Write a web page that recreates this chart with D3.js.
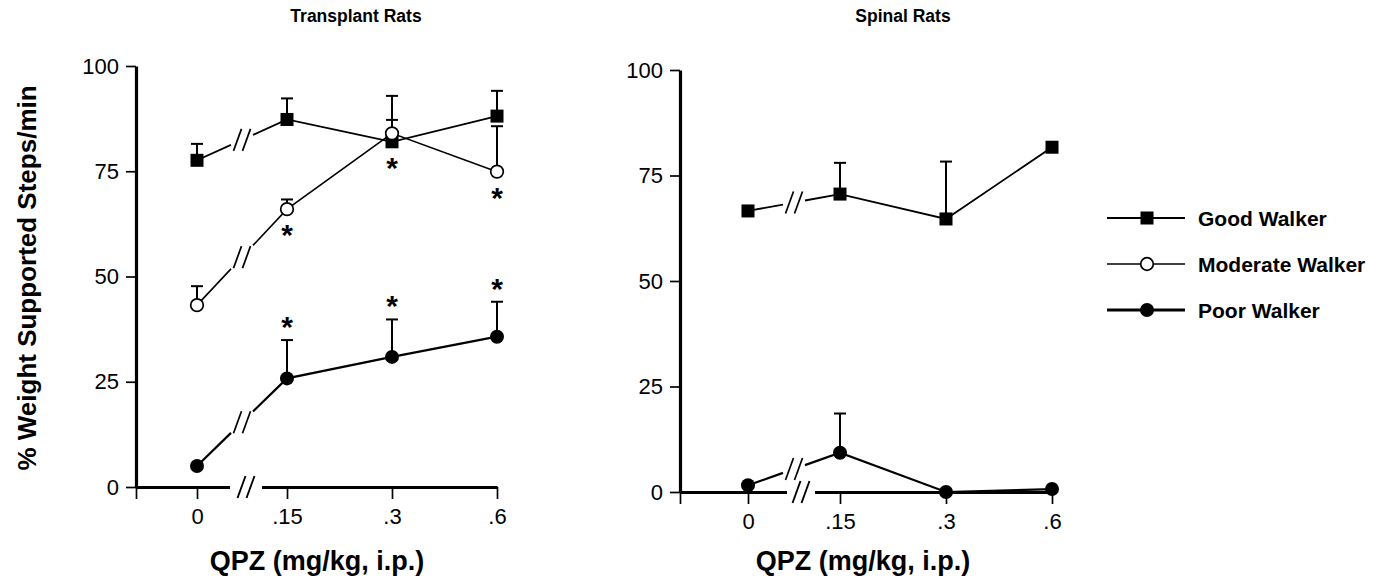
<!DOCTYPE html>
<html>
<head>
<meta charset="utf-8">
<script src="https://cdn.jsdelivr.net/npm/d3@7"></script>
<style>
  body { margin: 0; background: #fff; }
  svg { display: block; font-family: "Liberation Sans", Arial, Helvetica, sans-serif; }
</style>
</head>
<body>
<svg id="chart" width="1383" height="583"></svg>
<script>
// dose labels on the x axis (index -1 is the y-axis position, no label)
const doses = ["0", ".15", ".3", ".6"];
const yTicks = [0, 25, 50, 75, 100];

// Transplant rats
const transplantGood = [77.6, 87.3, 82.0, 88.1];
const transplantGoodSem = [3.9, 5.0, 5.2, 6.0];
const transplantGoodSig = [0, 0, 1, 0];

const transplantModerate = [43.2, 66.0, 84.0, 74.9];
const transplantModerateSem = [4.5, 2.3, 8.9, 10.8];
const transplantModerateSig = [0, 1, 0, 1];

const transplantPoor = [5.0, 25.8, 30.9, 35.7];
const transplantPoorSem = [0, 9.1, 8.9, 8.3];
const transplantPoorSig = [0, 1, 1, 1];

// Spinal rats
const spinalGood = [66.6, 70.6, 64.7, 81.7];
const spinalGoodSem = [0, 7.4, 13.6, 0];

const spinalPoor = [1.6, 9.3, 0, 0.7];
const spinalPoorSem = [0, 9.3, 0, 0];

const legendLabels = ["Good Walker", "Moderate Walker", "Poor Walker"];

const svg = d3.select("#chart");

const styles = {
  good: { marker: "square", width: 1.8, sigPos: "below" },
  moderate: { marker: "open", width: 1.6, sigPos: "below" },
  poor: { marker: "dot", width: 2.2, sigPos: "above" },
};

function drawMarker(g, type, cx, cy) {
  if (type === "square") {
    g.append("rect")
      .attr("x", cx - 6.5).attr("y", cy - 6.5)
      .attr("width", 13).attr("height", 13)
      .attr("fill", "#000");
  } else if (type === "open") {
    g.append("circle")
      .attr("cx", cx).attr("cy", cy).attr("r", 6.3)
      .attr("fill", "#fff").attr("stroke", "#000").attr("stroke-width", 1.7);
  } else {
    g.append("circle")
      .attr("cx", cx).attr("cy", cy).attr("r", 7)
      .attr("fill", "#000");
  }
}

function slashes(g, cx, cy, w) {
  [-4.5, 4.5].forEach((dx) => {
    g.append("line")
      .attr("x1", cx + dx - 4).attr("y1", cy + 11)
      .attr("x2", cx + dx + 4).attr("y2", cy - 11)
      .attr("stroke", "#000").attr("stroke-width", w);
  });
}

function drawPanel(cfg) {
  const x = d3.scaleLinear().domain([-1, 0, 1, 3]).range(cfg.xRange);
  const y = d3.scaleLinear().domain([0, 100]).range(cfg.yRange);
  const g = svg.append("g");

  g.append("text")
    .attr("x", cfg.titleX).attr("y", 22)
    .attr("text-anchor", "middle")
    .attr("font-size", 17.5).attr("font-weight", "bold")
    .text(cfg.title);

  const yAxis = g.append("g")
    .attr("transform", `translate(${x(-1)},0)`)
    .call(d3.axisLeft(y).tickValues(yTicks).tickSize(10).tickSizeOuter(0).tickPadding(7));

  const xAxis = g.append("g")
    .attr("transform", `translate(0,${y(0)})`)
    .call(
      d3.axisBottom(x)
        .tickValues([-1, 0, 1, 2, 3])
        .tickFormat((i) => (i < 0 ? "" : doses[i]))
        .tickSize(12).tickSizeOuter(0).tickPadding(9)
    );

  [yAxis, xAxis].forEach((a) => {
    a.attr("font-size", 22).attr("font-family", "Liberation Sans, Arial, sans-serif");
    a.select(".domain").attr("stroke-width", 3.2);
    a.selectAll(".tick line").attr("stroke-width", 1.7);
    a.selectAll(".tick text").attr("fill", "#000");
  });

  // break on the x axis
  const bx = (x(0) + x(1)) / 2 + cfg.axisBreakShift;
  g.append("rect")
    .attr("x", bx - cfg.axisGap).attr("y", y(0) - 4)
    .attr("width", cfg.axisGap * 2).attr("height", 8)
    .attr("fill", "#fff");
  slashes(g, bx, y(0), 1.9);

  g.append("text")
    .attr("x", cfg.xTitleX).attr("y", 570)
    .attr("text-anchor", "middle")
    .attr("font-size", 27).attr("font-weight", "bold")
    .text("QPZ (mg/kg, i.p.)");

  const lineGen = d3.line();
  const lines = g.append("g");
  const bars = g.append("g");
  const marks = g.append("g");

  cfg.series.forEach((s) => {
    const st = styles[s.kind];
    const pts = s.values.map((v, i) => [x(i), y(v)]);
    const [p0, p1] = pts;
    const mx = (p0[0] + p1[0]) / 2;
    const my = (p0[1] + p1[1]) / 2;
    const slope = (p1[1] - p0[1]) / (p1[0] - p0[0]);
    const a = [mx - 11, my - 11 * slope];
    const b = [mx + 11, my + 11 * slope];
    lines.append("path")
      .attr("d", lineGen([p0, a]) + lineGen([b, ...pts.slice(1)]))
      .attr("fill", "none").attr("stroke", "#000")
      .attr("stroke-width", st.width);
    slashes(lines, mx, my, 1.7);

    s.values.forEach((v, i) => {
      const sem = s.sem[i];
      if (sem > 0) {
        const top = y(v + sem);
        bars.append("line")
          .attr("x1", x(i)).attr("x2", x(i))
          .attr("y1", y(v)).attr("y2", top)
          .attr("stroke", "#000").attr("stroke-width", 2);
        bars.append("line")
          .attr("x1", x(i) - 6).attr("x2", x(i) + 6)
          .attr("y1", top).attr("y2", top)
          .attr("stroke", "#000").attr("stroke-width", 2);
      }
      if (s.sig && s.sig[i]) {
        const cy = st.sigPos === "below" ? y(v) + 23 : y(v + sem) - 16;
        marks.append("text")
          .attr("x", x(i)).attr("y", cy + 13)
          .attr("text-anchor", "middle")
          .attr("font-size", 30).attr("font-weight", "bold")
          .text("*");
      }
    });
    pts.forEach((p) => drawMarker(marks, st.marker, p[0], p[1]));
  });
}

drawPanel({
  title: "Transplant Rats",
  titleX: 356,
  xTitleX: 317,
  xRange: [136, 197, 287, 497],
  yRange: [487, 66],
  axisBreakShift: 4,
  axisGap: 16,
  series: [
    { kind: "good", values: transplantGood, sem: transplantGoodSem, sig: transplantGoodSig },
    { kind: "moderate", values: transplantModerate, sem: transplantModerateSem, sig: transplantModerateSig },
    { kind: "poor", values: transplantPoor, sem: transplantPoorSem, sig: transplantPoorSig },
  ],
});

drawPanel({
  title: "Spinal Rats",
  titleX: 903,
  xTitleX: 863,
  xRange: [680, 748, 840, 1052],
  yRange: [492, 70],
  axisBreakShift: 7,
  axisGap: 14,
  series: [
    { kind: "good", values: spinalGood, sem: spinalGoodSem },
    { kind: "poor", values: spinalPoor, sem: spinalPoorSem },
  ],
});

// y axis title
svg.append("text")
  .attr("transform", "translate(36,278) rotate(-90)")
  .attr("text-anchor", "middle")
  .attr("font-size", 26).attr("font-weight", "bold")
  .text("% Weight Supported Steps/min");

// legend
const legendKinds = ["good", "moderate", "poor"];
const legendY = d3.scalePoint().domain(legendKinds).range([218, 310]);
const legend = svg.append("g");
legendKinds.forEach((k, i) => {
  const ly = legendY(k);
  legend.append("line")
    .attr("x1", 1107).attr("x2", 1185)
    .attr("y1", ly).attr("y2", ly)
    .attr("stroke", "#000")
    .attr("stroke-width", k === "poor" ? 3 : k === "good" ? 1.8 : 1.4);
  drawMarker(legend, styles[k].marker, 1147, ly);
  legend.append("text")
    .attr("x", 1198).attr("y", ly)
    .attr("dy", "0.36em")
    .attr("font-size", 21).attr("font-weight", "bold")
    .text(legendLabels[i]);
});
</script>
</body>
</html>
